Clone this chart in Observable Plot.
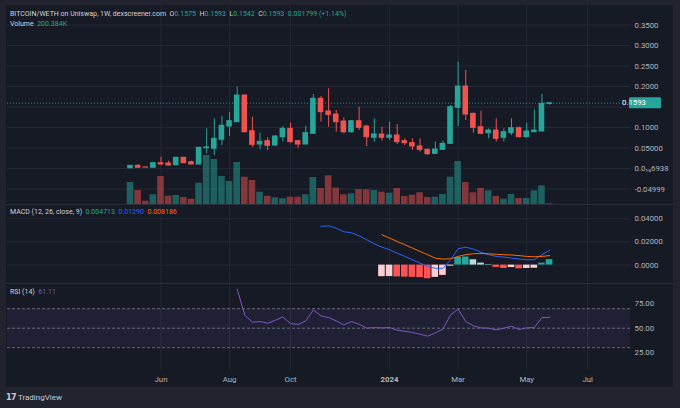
<!DOCTYPE html>
<html><head><meta charset="utf-8">
<script src="https://cdn.jsdelivr.net/npm/d3@7"></script>
<script src="https://cdn.jsdelivr.net/npm/@observablehq/plot@0.6"></script>
<style>
html,body{margin:0;padding:0;background:#21242e;}
#root{position:relative;width:680px;height:408px;background:#21242e;overflow:hidden;font-family:Roboto,"Noto Sans",sans-serif;}
#frame{position:absolute;left:6px;top:5px;width:667px;height:382px;background:#161a25;}
.pane{position:absolute;left:6px;}
.pane svg{position:absolute;left:0;top:0;}
.sep{position:absolute;left:6px;width:667px;height:1px;background:#2a2e39;}
.leg{position:absolute;font-size:7px;line-height:9px;color:#d1d4dc;white-space:nowrap;}
.g{color:#26a69a}.b{color:#2962ff}.o{color:#ff6d00}.p{color:#7e57c2}
</style></head><body>
<div id="root">
  <div id="frame"></div>
  <div class="pane" id="pricePane" style="top:5px;width:667px;height:199px"></div>
  <div class="sep" style="top:204px"></div>
  <div class="pane" id="macdPane" style="top:205px;width:667px;height:78px"></div>
  <div class="sep" style="top:283px"></div>
  <div class="pane" id="rsiPane" style="top:284px;width:667px;height:103px"></div>
  <div class="leg" style="left:10px;top:10px">BITCOIN/WETH on Uniswap, 1W, dexscreener.com&nbsp; O<span class="g">0.1575</span>&nbsp; H<span class="g">0.1593</span>&nbsp; L<span class="g">0.1542</span>&nbsp; C<span class="g">0.1593</span>&nbsp; <span class="g">0.001799 (+1.14%)</span></div>
  <div class="leg" style="left:10px;top:20px">Volume&nbsp; <span class="g">200.384K</span></div>
  <div class="leg" style="left:10px;top:208px">MACD (12, 26, close, 9)&nbsp; <span class="g">0.004713</span>&nbsp; <span class="b">0.01290</span>&nbsp; <span class="o">0.008186</span></div>
  <div class="leg" style="left:10px;top:288px">RSI (14)&nbsp; <span class="p">61.11</span></div>
  <div class="leg" style="left:6px;top:393px;font-size:8px;color:#c8cbd3"><b style="font-family:'DejaVu Sans';letter-spacing:-0.6px;font-size:8px">17</b>&nbsp;TradingView</div>
</div>
<script>
// ---------- data ----------
const weeks = d3.utcMonday.range(new Date("2023-05-08T00:00:00Z"), new Date("2024-06-03T00:00:00Z"));
const open  = [0.0005,0.0065,0.0026,0.0018,0.013,0.0122,0.0081,0.026,0.0154,0.0098,
  0.0495,0.048,0.0699,0.1024,0.113,0.178,0.091,0.0585,0.0667,0.0561,
  0.0764,0.0967,0.0667,0.0585,0.0846,0.1699,0.139,0.1317,0.1146,0.0886,
  0.1154,0.1024,0.0748,0.0829,0.0748,0.0805,0.0667,0.0618,0.0537,0.0455,
  0.0358,0.0455,0.0602,0.148,0.2,0.1333,0.1008,0.0862,0.0927,0.0748,
  0.0862,0.0984,0.0764,0.0886,0.0902,0.1575];
const high  = [0.007,0.0095,0.003,0.014,0.0276,0.0179,0.0276,0.027,0.0179,0.052,
  0.0967,0.1211,0.1268,0.1374,0.1984,0.179,0.1252,0.0862,0.0748,0.0805,
  0.1024,0.1106,0.0683,0.1024,0.1805,0.1756,0.1943,0.1415,0.1236,0.1171,
  0.1496,0.1049,0.1211,0.1008,0.113,0.1073,0.0724,0.0724,0.0724,0.0472,
  0.0642,0.0667,0.1537,0.2593,0.239,0.135,0.1398,0.0967,0.1211,0.0967,
  0.1211,0.1008,0.1106,0.1431,0.1805,0.1593];
const low   = [0.0003,0.0002,0.0018,0.0015,0.0073,0.0065,0.0073,0.012,0.009,0.009,
  0.0358,0.0317,0.0561,0.078,0.112,0.087,0.052,0.0455,0.0439,0.0537,
  0.0642,0.0618,0.0496,0.058,0.084,0.113,0.1008,0.0886,0.0846,0.0862,
  0.0927,0.0537,0.0642,0.0667,0.0683,0.0585,0.0561,0.0439,0.0398,0.0317,
  0.0341,0.0439,0.0585,0.1024,0.1171,0.0862,0.0821,0.0724,0.0642,0.0642,
  0.0805,0.0748,0.0748,0.0886,0.0902,0.1542];
const close = [0.0065,0.0018,0.0022,0.013,0.0098,0.0073,0.026,0.013,0.0098,0.0504,
  0.0515,0.0724,0.1041,0.1154,0.178,0.0886,0.0577,0.065,0.0553,0.078,
  0.0967,0.0642,0.0585,0.0862,0.1699,0.1374,0.1309,0.113,0.0886,0.1154,
  0.0992,0.0764,0.0829,0.0748,0.0805,0.0642,0.0618,0.0537,0.0455,0.035,
  0.0463,0.0602,0.1496,0.2,0.1317,0.0992,0.0846,0.0927,0.0724,0.0886,
  0.0984,0.0764,0.0902,0.0927,0.1577,0.1593];
const volumeK = [6380,4060,960,2810,8120,2410,2610,2030,1540,6180,
  14210,13050,8120,6670,12180,7920,6960,3570,2410,1940,
  1650,2120,2120,2810,7830,4640,8320,4730,2810,3100,
  4350,4260,4060,3570,3280,4640,2320,2700,3390,2030,
  2120,2900,7920,12470,6380,3390,4640,3970,2320,1540,
  2900,1740,1740,3970,5420,200.384];
const macdLine = [...Array(25).fill(null),
  0.0334,0.0340,0.0319,0.0288,0.0279,0.0253,0.0219,0.0184,0.0155,0.0133,
  0.0103,0.0075,0.0046,0.0017,-0.0011,-0.0028,-0.0028,0.0046,0.0141,0.0155,
  0.0138,0.0112,0.0090,0.0075,0.0069,0.0060,0.0052,0.0046,0.0046,0.0090,0.0129];
const signalLine = [...Array(33).fill(null),
  0.0262,0.0233,0.0204,0.0176,0.0147,0.0118,0.0090,0.0060,0.0052,0.0055,
  0.0075,0.0090,0.0098,0.0100,0.0098,0.0093,0.0090,0.0087,0.0082,0.0075,
  0.0072,0.0075,0.0082];
const histogram = [...Array(33).fill(null),
  -0.0100,-0.0099,-0.0102,-0.0104,-0.0106,-0.0108,-0.0118,-0.0106,-0.0089,-0.0009,
  0.0066,0.0070,0.0046,0.0017,0.0004,-0.0020,-0.0029,-0.0021,-0.0032,-0.0029,
  -0.0027,0.0017,0.0047];
const rsi = [...Array(14).fill(null),
  90,63.3,56.2,56.8,55.1,58.2,61.6,54.8,53.8,57.5,
  68.8,62.6,60.9,57.5,53.4,56.8,54.1,50,50.7,50.3,
  50.7,47.9,46.9,45.6,43.8,41.8,45.2,49,63.7,69.5,
  56.8,52.4,50.3,50,48.3,50,52,48.6,50.3,50.7,
  60.9,61.11];
const lastPrice = 0.1593;

const timeTicks = ["2023-06-05","2023-08-07","2023-10-02","2024-01-01","2024-03-04","2024-05-06","2024-07-01"].map(s => new Date(s + "T00:00:00Z"));
const timeLabels = ["Jun","Aug","Oct","2024","Mar","May","Jul"];
const priceTicks = [0.35,0.3,0.25,0.2,0.15,0.1,0.05,0,-0.05];
const priceLabels = ["0.3500","0.3000","0.2500","0.2000","","0.1000","0.05000","0.0\u2081\u20866938","-0.04999"];
const macdTicks = [0.04,0.02,0];
const macdLabels = ["0.04000","0.02000","0.0000"];
const rsiTicks = [75,50,25];
const rsiLabels = ["75.00","50.00","25.00"];
const rsiLevels = [70,50,30];

// ---------- layout ----------
const W = 667, ML = 1, MR = 43;
const xDomain = [new Date(Date.UTC(2023,0,15,0)), new Date(Date.UTC(2024,7,9,8))];
const priceDomain = [-0.0878, 0.3976];
const volDomain = [0, 57710];
const macdDomain = [-0.0159, 0.0515];
const rsiDomain = [6.55, 94.87];
const HALF = 3.5 * 864e5;
const GREEN = "#26a69a", RED = "#ef5350", GRID = "#242836", TXT = "#b2b5be";

const rows = weeks.map((date, i) => ({
  date, open: open[i], high: high[i], low: low[i], close: close[i], vol: volumeK[i],
  macd: macdLine[i], signal: signalLine[i], hist: histogram[i], rsi: rsi[i],
  up: close[i] >= open[i]
}));
const histRows = rows.filter(r => r.hist != null).map((r, i, a) => {
  const prev = i ? a[i-1].hist : -Infinity;
  const rising = r.hist > prev;
  return {...r, col: r.hist >= 0 ? (rising ? "#26a69a" : "#b2dfdb") : (rising ? "#ffcdd2" : "#ff5252")};
});
const x1 = d => new Date(+d.date - HALF), x2 = d => new Date(+d.date + HALF);
const fmtMap = (ticks, labels) => d => { const i = ticks.findIndex(t => +t === +d); return i < 0 ? "" : labels[i]; };
const base = (h, mb) => ({
  width: W, height: h, marginLeft: ML, marginRight: MR, marginTop: 0, marginBottom: mb,
  style: {background: "transparent", color: TXT, fontSize: "7.8px", fontFamily: "Roboto, sans-serif", overflow: "visible"}
});

// ---------- price pane ----------
const gridPlot = Plot.plot({
  ...base(199, 0),
  x: {type: "utc", domain: xDomain, axis: null},
  y: {domain: priceDomain, axis: "right", ticks: priceTicks, tickFormat: fmtMap(priceTicks, priceLabels), tickSize: 0, tickPadding: 4},
  marks: [
    Plot.ruleX(timeTicks, {stroke: GRID}),
    Plot.ruleY(priceTicks, {stroke: GRID})
  ]
});
const volPlot = Plot.plot({
  ...base(199, 0),
  x: {type: "utc", domain: xDomain, axis: null},
  y: {domain: volDomain, axis: null},
  marks: [
    Plot.rect(rows, {x1, x2, y1: 0, y2: "vol", fill: d => d.up ? GREEN : RED, fillOpacity: 0.5, insetLeft: 0.5, insetRight: 0.5})
  ]
});
const candlePlot = Plot.plot({
  ...base(199, 0),
  x: {type: "utc", domain: xDomain, axis: null},
  y: {domain: priceDomain, axis: null},
  marks: [
    Plot.ruleY([lastPrice], {stroke: GREEN, strokeDasharray: "1,2", strokeOpacity: 0.9}),
    Plot.ruleX(rows, {x: "date", y1: "low", y2: "high", stroke: d => d.up ? GREEN : RED, strokeWidth: 1}),
    Plot.rect(rows, {x1, x2, y1: "open", y2: "close", fill: d => d.up ? GREEN : RED, insetLeft: 1, insetRight: 1, insetTop: -0.5, insetBottom: -0.5})
  ]
});
const pp = document.getElementById("pricePane");
pp.append(gridPlot, volPlot, candlePlot);
{
  const ys = candlePlot.scale("y");
  const yy = ys.apply ? ys.apply(lastPrice) : d3.scaleLinear(priceDomain, [199, 0])(lastPrice);
  const xr = W - MR;
  const g = d3.select(candlePlot).append("g");
  g.append("rect").attr("x", xr - 1).attr("y", yy - 5.5).attr("width", 32).attr("height", 11).attr("rx", 1).attr("fill", GREEN);
  g.append("text").attr("x", xr + 4).attr("y", yy).attr("dy", "0.35em").attr("fill", "#ffffff").attr("font-size", "7.8px").text(lastPrice.toFixed(4));
}

// ---------- MACD pane ----------
const macdPlot = Plot.plot({
  ...base(78, 0),
  x: {type: "utc", domain: xDomain, axis: null},
  y: {domain: macdDomain, axis: "right", ticks: macdTicks, tickFormat: fmtMap(macdTicks, macdLabels), tickSize: 0, tickPadding: 4},
  marks: [
    Plot.ruleX(timeTicks, {stroke: GRID}),
    Plot.ruleY(macdTicks, {stroke: GRID}),
    Plot.rect(histRows, {x1, x2, y1: 0, y2: "hist", fill: "col", insetLeft: 0.5, insetRight: 0.5}),
    Plot.line(rows.filter(r => r.macd != null), {x: "date", y: "macd", stroke: "#2962ff", strokeWidth: 1}),
    Plot.line(rows.filter(r => r.signal != null), {x: "date", y: "signal", stroke: "#ff6d00", strokeWidth: 1})
  ]
});
document.getElementById("macdPane").append(macdPlot);

// ---------- RSI pane ----------
const rsiPlot = Plot.plot({
  ...base(103, 17),
  x: {type: "utc", domain: xDomain, axis: "bottom", ticks: timeTicks, tickFormat: fmtMap(timeTicks, timeLabels), tickSize: 0, tickPadding: 6},
  y: {domain: rsiDomain, axis: "right", ticks: rsiTicks, tickFormat: fmtMap(rsiTicks, rsiLabels), tickSize: 0, tickPadding: 4},
  marks: [
    Plot.ruleX(timeTicks, {stroke: GRID}),
    Plot.rect([{a: rsiLevels[2], b: rsiLevels[0]}], {x1: () => xDomain[0], x2: () => xDomain[1], y1: "a", y2: "b", fill: "#7e57c2", fillOpacity: 0.1}),
    Plot.ruleY(rsiLevels, {stroke: "#787b86", strokeDasharray: "3,2", strokeWidth: 0.8}),
    Plot.line(rows.filter(r => r.rsi != null), {x: "date", y: "rsi", stroke: "#7e57c2", strokeWidth: 1})
  ]
});
d3.select(rsiPlot).selectAll("text").filter(function(){ return this.textContent === "2024"; }).attr("font-weight", "bold");
document.getElementById("rsiPane").append(rsiPlot);
</script>
</body></html>
